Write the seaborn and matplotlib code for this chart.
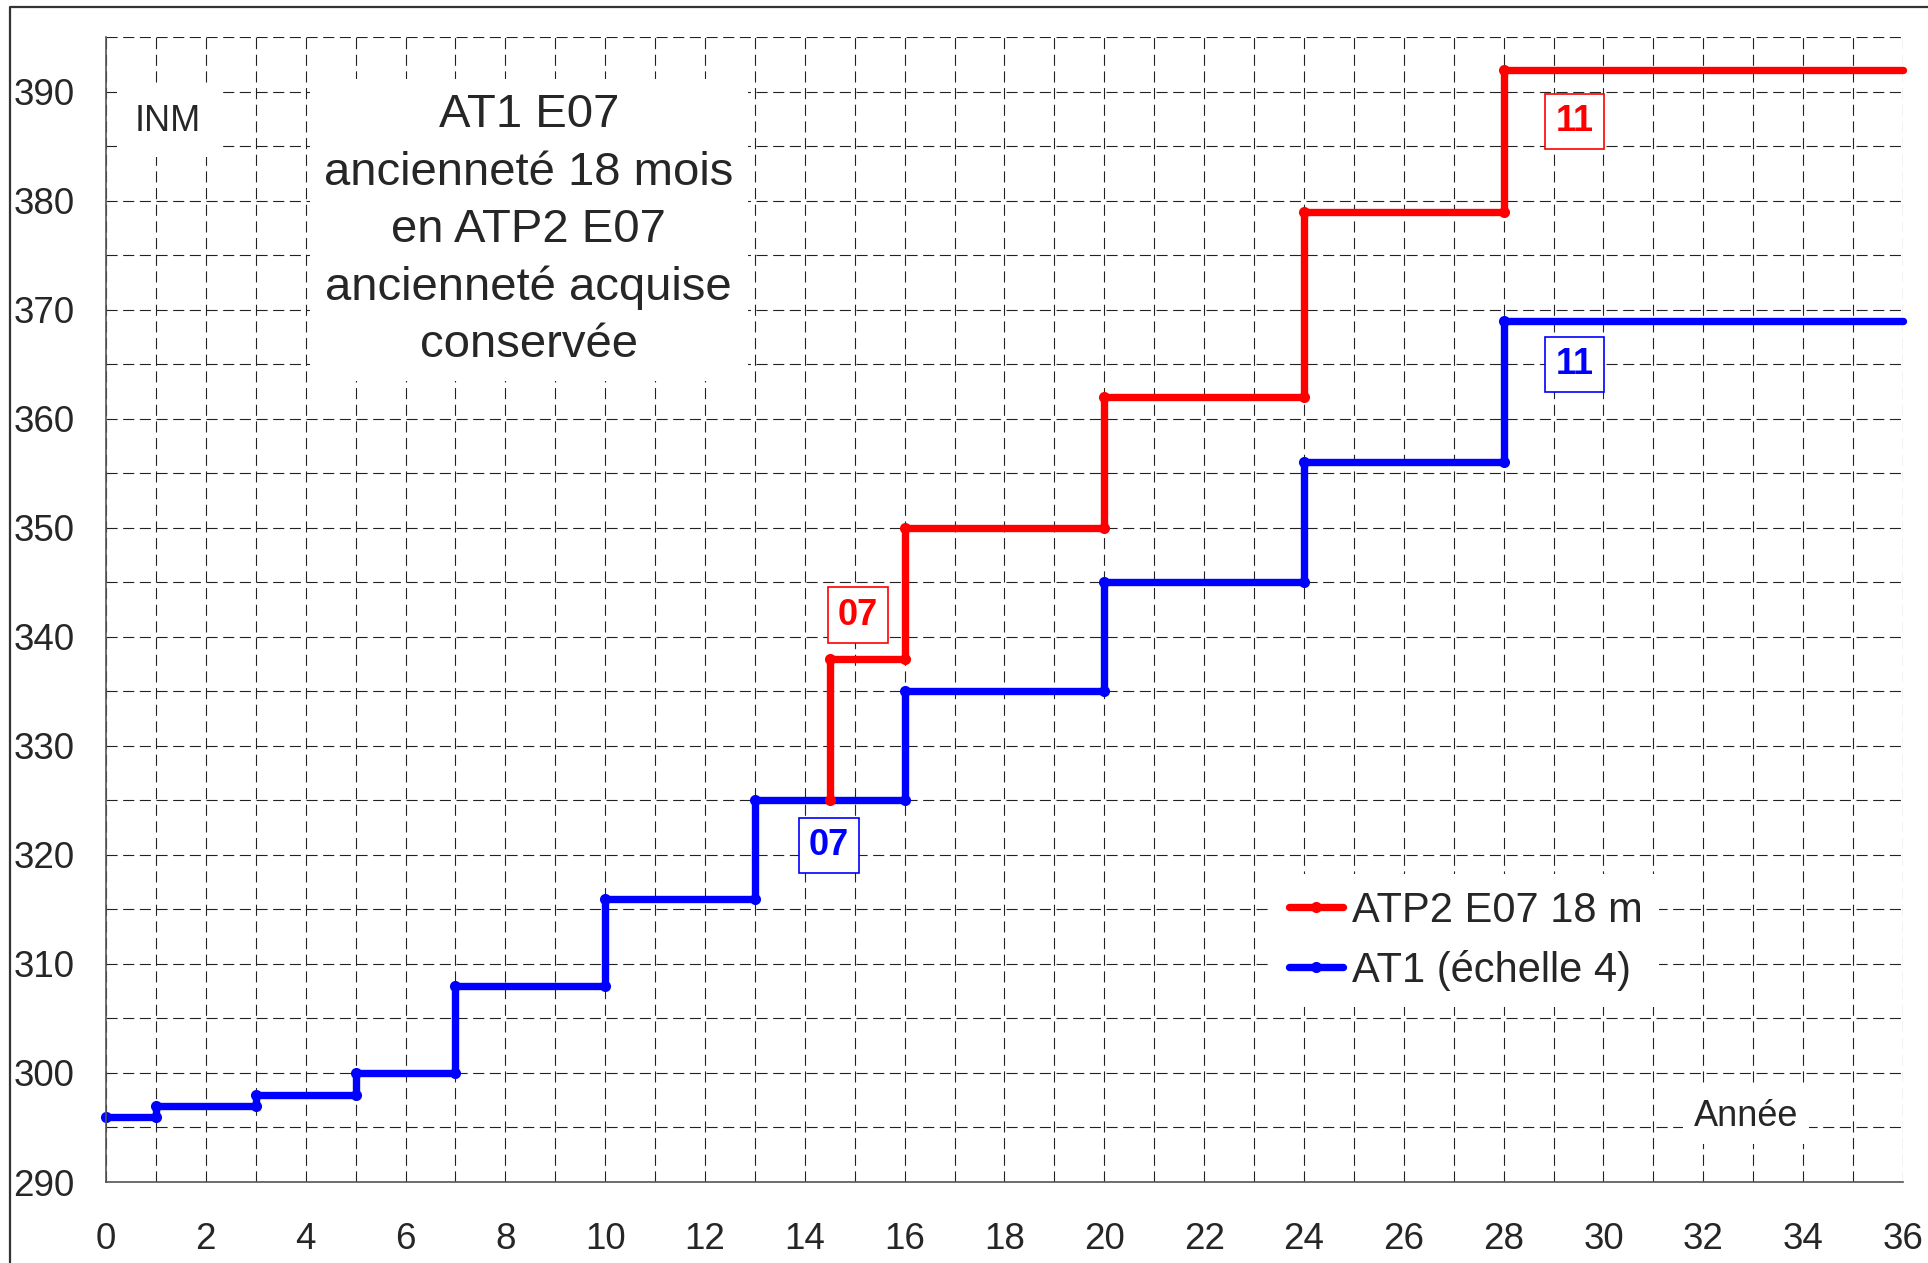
import pandas as pd
import seaborn as sns
import matplotlib.pyplot as plt
from matplotlib.lines import Line2D

# AT1 (echelle 4): year of each change and INM reached
at1_years = [0, 1, 3, 5, 7, 10, 13, 16, 20, 24, 28]
at1_inm = [296, 297, 298, 300, 308, 316, 325, 335, 345, 356, 369]

# ATP2 E07 after 18 months: starts from the AT1 index 325
atp2_start = 325
atp2_years = [14.5, 16, 20, 24, 28]
atp2_inm = [338, 350, 362, 379, 392]

end_year = 36
at1_label = 'AT1 (échelle 4)'
atp2_label = 'ATP2 E07 18 m'


def step_points(years, values, start=None):
    xs, ys = [], []
    if start is not None:
        xs.append(years[0])
        ys.append(start)
    for i, (x, v) in enumerate(zip(years, values)):
        nxt = years[i + 1] if i + 1 < len(years) else end_year
        xs += [x, nxt]
        ys += [v, v]
    return pd.DataFrame({'annee': xs, 'inm': ys})


df_at1 = step_points(at1_years, at1_inm)
df_atp2 = step_points(atp2_years, atp2_inm, start=atp2_start)

sns.set_style('white')
plt.rcParams['font.family'] = ['Liberation Sans', 'DejaVu Sans']

fig = plt.figure(figsize=(19.28, 12.63), dpi=100)
ax = fig.add_axes([0.05498, 0.06413, 0.93205, 0.90634])

line_kw = dict(sort=False, estimator=None, linewidth=5.3, marker='o',
               markersize=8, markeredgewidth=0, clip_on=False,
               markevery=slice(0, -1))
sns.lineplot(data=df_at1, x='annee', y='inm', color='#0000ff', ax=ax, **line_kw)
sns.lineplot(data=df_atp2, x='annee', y='inm', color='#ff0000', ax=ax, **line_kw)

ax.set_xlim(0, end_year)
ax.set_ylim(290, 395)
ax.set_xticks(range(0, end_year + 1, 2))
ax.set_xticks(range(0, end_year + 1, 1), minor=True)
ax.set_yticks(range(290, 391, 10))
ax.set_yticks(range(290, 396, 5), minor=True)
ax.set_xlabel('')
ax.set_ylabel('')

ax.set_axisbelow(True)
ax.grid(True, which='both', color='#222222', linewidth=0.8,
        linestyle=(0, (10, 5)))
for s in ['top', 'right']:
    ax.spines[s].set_visible(False)
for s in ['left', 'bottom']:
    ax.spines[s].set_color('#555555')
    ax.spines[s].set_linewidth(1.2)

ax.tick_params(axis='both', which='major', labelsize=26.5, length=8.5,
               width=1, color='#555555', direction='out')
ax.tick_params(axis='x', which='major', pad=20)
ax.tick_params(axis='y', which='major', pad=14)
ax.tick_params(axis='x', which='minor', length=5, direction='in', color='#555555')
ax.tick_params(axis='y', which='minor', length=0)

# texts
ax.text(1.24, 387.3, 'INM', fontsize=26, ha='center', va='center',
        bbox=dict(boxstyle='square,pad=0.5', fc='white', ec='none'))
ax.text(8.47, 377.3,
        'AT1 E07\nancienneté 18 mois\nen ATP2 E07\nancienneté acquise\nconservée',
        fontsize=34, ha='center', va='center', linespacing=1.39,
        bbox=dict(boxstyle='square,pad=0.3', fc='white', ec='none'))
ax.text(32.86, 296.05, 'Année', fontsize=26, ha='center', va='center',
        bbox=dict(boxstyle='square,pad=0.3', fc='white', ec='none'))

for x, y, txt, col in [(15.06, 342.0, '07', '#ff0000'),
                       (14.48, 320.9, '07', '#0000ff'),
                       (29.42, 387.3, '11', '#ff0000'),
                       (29.42, 365.0, '11', '#0000ff')]:
    ax.text(x, y, txt, fontsize=26, fontweight='bold', color=col,
            ha='center', va='center',
            bbox=dict(boxstyle='square,pad=0.28', fc='white', ec=col, lw=1.2))

handles = [Line2D([], [], color='#ff0000', lw=5.3, marker='o', markersize=8,
                  markeredgewidth=0),
           Line2D([], [], color='#0000ff', lw=5.3, marker='o', markersize=8,
                  markeredgewidth=0)]
leg = ax.legend(handles, [atp2_label, at1_label], loc='center left',
                bbox_to_anchor=(0.660, 0.255), bbox_transform=fig.transFigure,
                fontsize=30, frameon=True, fancybox=False, framealpha=1,
                facecolor='white', edgecolor='none', handlelength=1.3,
                handletextpad=0.2, labelspacing=0.45, borderpad=0.4,
                borderaxespad=0)

# outer chart border
fig.add_artist(Line2D([10 / 1928, 10 / 1928, 1], [0, 1 - 7 / 1263, 1 - 7 / 1263],
                      transform=fig.transFigure, color='#333333', lw=1.6))

fig.savefig('out.png', dpi=100)
